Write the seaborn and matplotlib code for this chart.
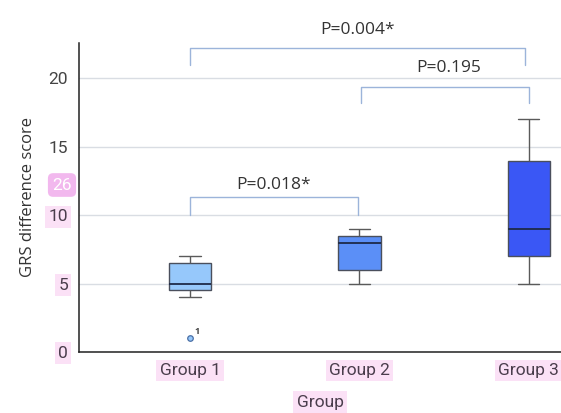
import matplotlib
matplotlib.use("Agg")
import matplotlib.pyplot as plt
import seaborn as sns
import pandas as pd

# ---- data ----
groups = ["Group 1", "Group 2", "Group 3"]
group1_scores = [1, 4, 4.5, 5, 5, 6, 6.5, 7, 7]
group2_scores = [5, 6, 6, 7, 8, 8, 8.5, 9, 9]
group3_scores = [5, 6, 7, 8, 9, 12, 14, 16, 17]
box_colors = ["#96c8fb", "#5b8ff7", "#3a57f5"]
comparisons = [("Group 1", "Group 2", "P=0.018*"),
               ("Group 2", "Group 3", "P=0.195"),
               ("Group 1", "Group 3", "P=0.004*")]
y_ticks = [0, 5, 10, 15, 20]
outlier_label = "1"

sns.set_theme(style="white")
plt.rcParams["font.family"] = ["Open Sans", "DejaVu Sans"]

df = pd.DataFrame({
    "Group": sum([[g] * len(v) for g, v in zip(groups, [group1_scores, group2_scores, group3_scores])], []),
    "score": group1_scores + group2_scores + group3_scores,
})

fig = plt.figure(figsize=(5.61, 4.13), dpi=100)
ax = fig.add_axes([0.141, 0.148, 0.859, 0.748])

sns.boxplot(data=df, x="Group", y="score", hue="Group", palette=box_colors,
            order=groups, width=0.25, linewidth=1.0, linecolor="#4a4f5c",
            saturation=1, legend=False, ax=ax,
            flierprops=dict(marker="o", markersize=4, markerfacecolor="#96c8fb",
                            markeredgecolor="#4a6fa5", markeredgewidth=0.9),
            whiskerprops=dict(color="#5a5a5a"), capprops=dict(color="#5a5a5a"),
            medianprops=dict(color="#1e2a48", linewidth=1.3))

ax.set_xlim(-0.655, 2.19)
ax.set_ylim(0, 22.6)
ax.set_yticks(y_ticks)
ax.yaxis.grid(True, color="#d9dde3", linewidth=1.0)
ax.set_axisbelow(True)
for s in ["top", "right"]:
    ax.spines[s].set_visible(False)
for s in ["left", "bottom"]:
    ax.spines[s].set_color("#222222")
    ax.spines[s].set_linewidth(1.1)
ax.tick_params(axis="both", length=0, pad=8)

hl = dict(boxstyle="square,pad=0.2", facecolor="#fbe1f6", edgecolor="none")
for lab in ax.get_yticklabels():
    lab.set_fontfamily(["Roboto", "DejaVu Sans"])
    lab.set_fontsize(12.5)
    if lab.get_text() in ("0", "5", "10"):
        lab.set_color("#4a3d4c")
        lab.set_bbox(hl)
    else:
        lab.set_color("#444444")
for lab in ax.get_xticklabels():
    lab.set_fontfamily(["Roboto", "DejaVu Sans"])
    lab.set_fontsize(12.5)
    lab.set_color("#4a3d4c")
    lab.set_bbox(hl)

ax.set_xlabel("Group", fontsize=12.5, color="#4a3d4c", family=["Roboto", "DejaVu Sans"],
              labelpad=12, bbox=hl)
ax.set_ylabel("GRS difference score", fontsize=12, color="#333333", labelpad=9)

# outlier label
ax.annotate(outlier_label, xy=(0, group1_scores[0]), xytext=(3.5, 3), textcoords="offset points",
            fontsize=6.5, color="#444444", fontweight="bold")

# significance brackets
pos = {g: i for i, g in enumerate(groups)}
bracket_specs = [(11.3, 10.0, 10.0), (19.4, 18.2, 18.2), (22.2, 21.0, 21.0)]
xshift = [(0.0, -0.01), (0.01, 0.0), (0.0, -0.02)]
text_gap = [0.3, 0.75, 0.75]
text_dx = [0.0, 0.02, 0.0]
line_col = "#9cb4da"
for (g1, g2, txt), (ytop, yl, yr), (dx1, dx2), gap, tdx in zip(
        comparisons, bracket_specs, xshift, text_gap, text_dx):
    x1, x2 = pos[g1] + dx1, pos[g2] + dx2
    ax.plot([x1, x1, x2, x2], [yl, ytop, ytop, yr], color=line_col, lw=1.0,
            clip_on=False, solid_joinstyle="round")
    ax.text((x1 + x2) / 2 + tdx, ytop + gap, txt, ha="center", va="bottom",
            fontsize=12.5, color="#333333", clip_on=False)

# badge
fig.text(62 / 561, 1 - 185 / 413, "26", ha="center", va="center", fontsize=12.5,
         color="white", family=["Roboto", "DejaVu Sans"],
         bbox=dict(boxstyle="round,pad=0.25,rounding_size=0.3", facecolor="#f2b8ee", edgecolor="none"))

fig.savefig("out.png", dpi=100)
